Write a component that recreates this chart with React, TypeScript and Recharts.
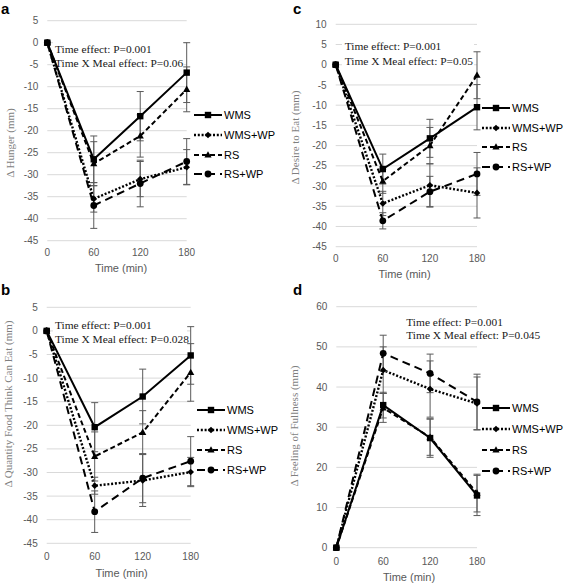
import React from 'react';
import { LineChart, Line, XAxis, YAxis, CartesianGrid, ErrorBar, Legend, Label } from 'recharts';

// ---------- shared ----------
const TIMES = [0, 60, 120, 180];
const X_TICKS = [0, 60, 120, 180];
const SERIES_KEYS = ['WMS', 'WMSWP', 'RS', 'RSWP'];
const SERIES_NAMES = ['WMS', 'WMS+WP', 'RS', 'RS+WP'];
const X_TITLE = 'Time (min)';

// ---------- a: Hunger ----------
const hungerWMS = [0, -26.5, -16.7, -6.8];
const hungerWMSWP = [0, -35.5, -31.0, -28.3];
const hungerRS = [0, -27.5, -21.2, -10.6];
const hungerRSWP = [0, -37.0, -32.0, -27.0];
const hungerErrWMS = [0, 5.3, 5.6, 6.8];
const hungerErrWMSWP = [0, 3.0, 4.0, 4.0];
const hungerErrRS = [0, 5.0, 4.8, 5.1];
const hungerErrRSWP = [0, 5.2, 5.3, 5.2];
const hungerTicks = [-45, -40, -35, -30, -25, -20, -15, -10, -5, 0, 5];
const hungerTitle = 'Δ Hunger (mm)';
const hungerStats = ['Time effect: P=0.001', 'Time X Meal effect: P=0.06'];

// ---------- c: Desire to eat ----------
const desireWMS = [0, -25.8, -18.2, -10.5];
const desireWMSWP = [0, -34.3, -29.8, -31.7];
const desireRS = [0, -28.8, -20.0, -2.6];
const desireRSWP = [0, -38.6, -31.4, -27.0];
const desireErrWMS = [0, 3.7, 4.7, 5.6];
const desireErrWMSWP = [0, 3.0, 5.3, 6.2];
const desireErrRS = [0, 3.0, 4.5, 5.8];
const desireErrRSWP = [0, 2.0, 3.8, 5.3];
const desireTicks = [-45, -40, -35, -30, -25, -20, -15, -10, -5, 0, 5, 10];
const desireTitle = 'Δ Desire to Eat (mm)';
const desireStats = ['Time effect: P=0.001', 'Time X Meal effect: P=0.05'];

// ---------- b: Quantity food think can eat ----------
const quantityWMS = [0, -20.4, -13.9, -5.2];
const quantityWMSWP = [0, -32.8, -31.7, -29.9];
const quantityRS = [0, -26.6, -21.5, -8.8];
const quantityRSWP = [0, -38.3, -31.2, -27.6];
const quantityErrWMS = [0, 5.2, 5.8, 6.1];
const quantityErrWMSWP = [0, 1.8, 5.5, 3.1];
const quantityErrRS = [0, 5.2, 4.6, 6.1];
const quantityErrRSWP = [0, 4.4, 5.2, 5.2];
const quantityTicks = [-45, -40, -35, -30, -25, -20, -15, -10, -5, 0, 5];
const quantityTitle = 'Δ Quantity Food Think Can Eat (mm)';
const quantityStats = ['Time effect: P=0.001', 'Time X Meal effect: P=0.028'];

// ---------- d: Fullness ----------
const fullWMS = [0, 35.5, 27.3, 13.0];
const fullWMSWP = [0, 44.2, 39.5, 35.9];
const fullRS = [0, 34.8, 27.5, 13.6];
const fullRSWP = [0, 48.4, 43.4, 36.3];
const fullErrWMS = [0, 3.2, 4.8, 5.0];
const fullErrWMSWP = [0, 5.8, 7.0, 6.6];
const fullErrRS = [0, 3.6, 4.5, 4.7];
const fullErrRSWP = [0, 4.5, 4.8, 6.9];
const fullTicks = [0, 10, 20, 30, 40, 50, 60];
const fullTitle = 'Δ Feeling of Fullness (mm)';
const fullStats = ['Time effect: P=0.001', 'Time X Meal effect: P=0.045'];

// ---------- styles ----------
const SANS = '"Liberation Sans", Arial, sans-serif';
const SERIF = '"Liberation Serif", "Times New Roman", serif';

const LINE_STYLE: Record<string, { dash?: string; marker: string; width: number }> = {
  WMS: { dash: undefined, marker: 'square', width: 2 },
  WMSWP: { dash: '2 1.8', marker: 'diamond', width: 2.4 },
  RS: { dash: '5 3', marker: 'triangle', width: 2 },
  RSWP: { dash: '8 5', marker: 'circle', width: 2 },
};

function buildRows(series: number[][], errs: number[][]) {
  return TIMES.map((t, i) => {
    const row: Record<string, number> = { time: t };
    SERIES_KEYS.forEach((k, j) => {
      row[k] = series[j][i];
      row[k + 'Err'] = errs[j][i];
    });
    return row;
  });
}

function Marker({ cx, cy, shape }: { cx?: number; cy?: number; shape: string }) {
  if (cx == null || cy == null) return null;
  if (shape === 'square') return <rect x={cx - 3.2} y={cy - 3.2} width={6.4} height={6.4} fill="#000" />;
  if (shape === 'diamond')
    return <polygon points={`${cx},${cy - 3.3} ${cx + 3.3},${cy} ${cx},${cy + 3.3} ${cx - 3.3},${cy}`} fill="#000" />;
  if (shape === 'triangle')
    return <polygon points={`${cx},${cy - 3.8} ${cx + 3.6},${cy + 2.6} ${cx - 3.6},${cy + 2.6}`} fill="#000" />;
  return <circle cx={cx} cy={cy} r={3.4} fill="#000" />;
}

type Cfg = {
  left: number; top: number; w: number; h: number;
  yAxisW: number; mTop: number; mBottom: number; xAxisH: number;
  legendW: number; mRight: number; legendLeft: number; legendTop: number; rowH: number;
  yTitleX: number; yTitleY: number; xTitleX: number; xTitleY: number; tickMarginX: number;
  annX: number; annY1: number; annY2: number; box?: [number, number, number, number];
  letter: string; letterX: number; letterY: number;
};

function Panel({ cfg, rows, ticks, yTitle, stats }: { cfg: Cfg; rows: any[]; ticks: number[]; yTitle: string; stats: string[] }) {
  const renderLegend = (props: any) => {
    const items = [...(props.payload || [])].sort(
      (a: any, b: any) => SERIES_NAMES.indexOf(a.value) - SERIES_NAMES.indexOf(b.value)
    );
    return (
      <div style={{ width: cfg.legendW }}>
        {items.map((it: any) => {
          const key = SERIES_KEYS[SERIES_NAMES.indexOf(it.value)];
          const st = LINE_STYLE[key];
          return (
            <div key={it.value} style={{ height: cfg.rowH, display: 'flex', alignItems: 'center' }}>
              <svg width={28} height={10} style={{ display: 'block' }}>
                <line x1={0} y1={5} x2={28} y2={5} stroke="#000" strokeWidth={st.width} strokeDasharray={st.dash} />
                <Marker cx={14} cy={5} shape={st.marker} />
              </svg>
              <span style={{ marginLeft: 2, fontFamily: SANS, fontSize: 11, color: '#000', whiteSpace: 'nowrap' }}>
                {it.value}
              </span>
            </div>
          );
        })}
      </div>
    );
  };

  return (
    <div style={{ position: 'absolute', left: cfg.left, top: cfg.top, width: cfg.w, height: cfg.h }}>
      <LineChart
        width={cfg.w}
        height={cfg.h}
        data={rows}
        margin={{ top: cfg.mTop, right: cfg.mRight, bottom: cfg.mBottom, left: 0 }}
      >
        <CartesianGrid vertical={false} stroke="#d9d9d9" strokeWidth={1} />
        {cfg.box && (
          <rect x={cfg.box[0]} y={cfg.box[1]} width={cfg.box[2]} height={cfg.box[3]} fill="#fff" />
        )}
        <text x={cfg.annX} y={cfg.annY1} dy="0.35em" fontFamily={SERIF} fontSize={11.4} fill="#1a1a1a">
          {stats[0]}
        </text>
        <text x={cfg.annX} y={cfg.annY2} dy="0.35em" fontFamily={SERIF} fontSize={11.4} fill="#1a1a1a">
          {stats[1]}
        </text>
        <XAxis
          dataKey="time"
          type="number"
          domain={[0, 180]}
          ticks={X_TICKS}
          interval={0}
          axisLine={false}
          tickLine={false}
          tickSize={0}
          tickMargin={cfg.tickMarginX}
          height={cfg.xAxisH}
          tick={{ fontFamily: SANS, fontSize: 10, fill: '#595959' }}
        >
          <Label
            content={() => (
              <text x={cfg.xTitleX} y={cfg.xTitleY} dy="0.35em" textAnchor="middle" fontFamily={SANS} fontSize={11} fill="#595959">
                {X_TITLE}
              </text>
            )}
          />
        </XAxis>
        <YAxis
          type="number"
          domain={[ticks[0], ticks[ticks.length - 1]]}
          ticks={ticks}
          interval={0}
          axisLine={false}
          tickLine={false}
          tickSize={0}
          tickMargin={9}
          width={cfg.yAxisW}
          tick={{ fontFamily: SANS, fontSize: 10, fill: '#595959' }}
        >
          <Label
            content={() => (
              <text
                x={cfg.yTitleX}
                y={cfg.yTitleY}
                dy="0.35em"
                textAnchor="middle"
                transform={`rotate(-90 ${cfg.yTitleX} ${cfg.yTitleY})`}
                fontFamily={SERIF}
                fontSize={11}
                fill="#7f7f7f"
              >
                {yTitle}
              </text>
            )}
          />
        </YAxis>
        <Legend
          layout="vertical"
          align="right"
          verticalAlign="top"
          width={cfg.legendW}
          wrapperStyle={{ left: cfg.legendLeft, top: cfg.legendTop, right: 'auto', width: cfg.legendW }}
          content={renderLegend}
        />
        {SERIES_KEYS.map((k, j) => {
          const st = LINE_STYLE[k];
          return (
            <Line
              key={k}
              dataKey={k}
              name={SERIES_NAMES[j]}
              type="linear"
              stroke="#000"
              strokeWidth={st.width}
              strokeDasharray={st.dash}
              isAnimationActive={false}
              dot={(p: any) => <Marker key={`${k}-${p.index}`} cx={p.cx} cy={p.cy} shape={st.marker} />}
              activeDot={false}
            >
              <ErrorBar dataKey={k + 'Err'} direction="y" width={3.5} stroke="#5a5a5a" strokeWidth={1} isAnimationActive={false} />
            </Line>
          );
        })}
      </LineChart>
      <div
        style={{
          position: 'absolute', left: cfg.letterX, top: cfg.letterY, fontFamily: SANS, fontWeight: 'bold',
          fontSize: 15, lineHeight: '11px', color: '#000',
        }}
      >
        {cfg.letter}
      </div>
    </div>
  );
}

const CFG_A: Cfg = {
  left: 0, top: 0, w: 283, h: 290, yAxisW: 47.3, mTop: 20.7, mBottom: 19.3, xAxisH: 30,
  legendW: 90, mRight: 6.3, legendLeft: 194, legendTop: 105.3, rowH: 19.7,
  yTitleX: 10.5, yTitleY: 143, xTitleX: 121, xTitleY: 268.3, tickMarginX: 8,
  annX: 55, annY1: 49.3, annY2: 63.3, box: [53, 41, 131, 30],
  letter: 'a', letterX: 1, letterY: 3,
};
const CFG_C: Cfg = {
  left: 283, top: 0, w: 283, h: 290, yAxisW: 52.7, mTop: 24.3, mBottom: 13.3, xAxisH: 30,
  legendW: 85, mRight: 4, legendLeft: 199, legendTop: 98.2, rowH: 19.6,
  yTitleX: 12.5, yTitleY: 137.5, xTitleX: 121.5, xTitleY: 274, tickMarginX: 8,
  annX: 61.7, annY1: 45.7, annY2: 61, box: [59, 37, 132, 32],
  letter: 'c', letterX: 10, letterY: 3,
};
const CFG_B: Cfg = {
  left: 0, top: 290, w: 283, h: 294, yAxisW: 46.7, mTop: 17.3, mBottom: 10.7, xAxisH: 30,
  legendW: 88, mRight: 4.3, legendLeft: 197, legendTop: 110, rowH: 20,
  yTitleX: 8.5, yTitleY: 114, xTitleX: 121.7, xTitleY: 283.3, tickMarginX: 10,
  annX: 55, annY1: 34.7, annY2: 48.7, box: [53, 27, 134, 29],
  letter: 'b', letterX: 1, letterY: -5.7,
};
const CFG_D: Cfg = {
  left: 283, top: 290, w: 283, h: 294, yAxisW: 53.3, mTop: 16.7, mBottom: 6.3, xAxisH: 30,
  legendW: 85, mRight: 4, legendLeft: 199, legendTop: 107.5, rowH: 21,
  yTitleX: 11.5, yTitleY: 136, xTitleX: 126, xTitleY: 287.3, tickMarginX: 10,
  annX: 123.3, annY1: 32, annY2: 45,
  letter: 'd', letterX: 10, letterY: -5.7,
};

export default function App() {
  const rowsA = buildRows([hungerWMS, hungerWMSWP, hungerRS, hungerRSWP], [hungerErrWMS, hungerErrWMSWP, hungerErrRS, hungerErrRSWP]);
  const rowsC = buildRows([desireWMS, desireWMSWP, desireRS, desireRSWP], [desireErrWMS, desireErrWMSWP, desireErrRS, desireErrRSWP]);
  const rowsB = buildRows([quantityWMS, quantityWMSWP, quantityRS, quantityRSWP], [quantityErrWMS, quantityErrWMSWP, quantityErrRS, quantityErrRSWP]);
  const rowsD = buildRows([fullWMS, fullWMSWP, fullRS, fullRSWP], [fullErrWMS, fullErrWMSWP, fullErrRS, fullErrRSWP]);
  return (
    <div style={{ position: 'absolute', left: 0, top: 0, width: 566, height: 584, background: '#fff', overflow: 'hidden' }}>
      <Panel cfg={CFG_A} rows={rowsA} ticks={hungerTicks} yTitle={hungerTitle} stats={hungerStats} />
      <Panel cfg={CFG_C} rows={rowsC} ticks={desireTicks} yTitle={desireTitle} stats={desireStats} />
      <Panel cfg={CFG_B} rows={rowsB} ticks={quantityTicks} yTitle={quantityTitle} stats={quantityStats} />
      <Panel cfg={CFG_D} rows={rowsD} ticks={fullTicks} yTitle={fullTitle} stats={fullStats} />
    </div>
  );
}
